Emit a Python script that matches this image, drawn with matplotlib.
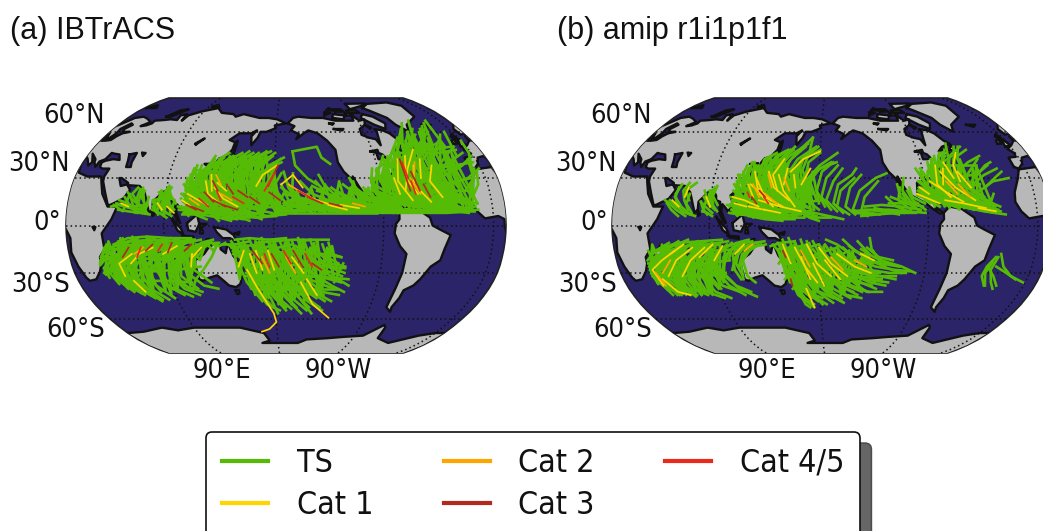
import numpy as np
import matplotlib
matplotlib.use("Agg")
import matplotlib.pyplot as plt
from matplotlib.patches import Polygon

W, H = 1043, 531
OCEAN = "#2c2469"
LAND = "#b8b8b8"
CAT_COLORS = ["#55bb05", "#ffd500", "#ffa500", "#b22a1e", "#e8291c"]
CAT_NAMES = ["TS", "Cat 1", "Cat 2", "Cat 3", "Cat 4/5"]
CENTRAL_LON = 190

# Robinson table
ROB_LAT = np.arange(0, 95, 5)
ROB_PLEN = [1.0, .9986, .9954, .99, .9822, .973, .96, .9427, .9216, .8962, .8679, .835, .7986, .7597, .7186, .6732, .6213, .5722, .5322]
ROB_PDFE = [0, .062, .124, .186, .248, .31, .372, .434, .4958, .5571, .6176, .6769, .7346, .7903, .8435, .8936, .9394, .9761, 1.0]

# coastlines, lon/lat pairs
EURASIA = [-9,37,-9,43,-2,43.5,-1,46,-4.5,48.5,2,51,8,54,8.5,57,10.5,57.5,10,54,14,54,19,54.5,21,57,24,59,30,60,23,60,21,62,25,65,22,66,17,62,18,59,16,56,13,55.5,11,59,6,58,5,62,12,66,18,70,26,71,33,69.5,41,67,35,64,40,64.5,44,66,44,68,54,68.5,60,69,68,68.5,67,72,73,73,74,68,76,72,87,75,104,78,113,74,128,73,132,71,140,73,160,70,170,70,180,69,190,66,178,64.5,179,62.5,170,60,164,60,162,56,157,51,155.5,57,160,61,155,59,143,59,135,54.5,141,53,140,48,135,43.5,130,42.5,127.5,39.5,129,36,126.5,34.5,126,37.5,125,39.5,121.5,39,118,39,122,37,119,35,122,31,120,26,114,22.5,109,21,106,19,109,13,105,9,103,11,100,13.5,99.5,9,103.5,1.5,101,3,98,8,98,15,94.5,16,94,19,91,22.5,87,21,80,15,80,10,77.5,8,73,19,72,21,67,25,57,25.5,56.5,27,50,30,48,30,51,25,56,26,59.5,22.5,55,17,45,13,43,13,39,21,35,28,34.5,31,36,36,30,36,27,37,26.5,40,29,41,35,42,41,41.5,38,45,33,45.5,30,46,28,42,24,40.5,23,37,20,40,19,42,13,45.5,18,40,16,38,12,42,9,44,3,43,-0.5,39,-5.5,36]
AFRICA = [-6,35.5,10,37,11,33.5,20,31,32,31,34,27,37,20,43,12,51,12,47,4,39,-5,40,-15,35,-20,35,-24,32,-29,26,-34,20,-35,18,-33,15,-26,12,-17,13,-8,9,-1,9,4,4,6,-7,4.5,-13,9,-17,15,-16,21,-10,30]
N_AMERICA = [-168,66,-162,70,-156,71,-141,70,-128,70,-115,68,-108,68,-95,68,-94,72,-88,68,-82,69,-85,65,-93,62,-94,58,-88,56,-82,55,-80,51,-79,55,-77,60,-78,62,-70,61,-65,59,-60,54,-56,52,-65,50,-70,47,-65,48,-61,46,-66,44,-70,43,-74,40,-76,35,-81,31,-80,25.5,-82.5,28,-84,30,-90,29,-97,27,-97.5,21,-94,18,-91,19,-87,21,-88,16,-83.5,15,-83.5,11,-79,9,-77,8,-80,7.5,-85,10,-92,14.5,-96,16,-105,20,-109,25,-113,31,-110,23,-115,30,-120,34,-124,40,-124,48,-130,54,-138,59,-147,61,-152,59,-160,55,-157,58.5,-165,61,-161,64]
S_AMERICA = [-77,8,-72,12,-62,10.5,-52,5,-50,0,-44,-2.5,-35,-6,-39,-15,-41,-22,-48,-26,-54,-34,-58,-38,-65,-41,-66,-46,-69,-52,-68,-55,-74,-52,-73,-40,-71,-30,-70,-18,-76,-13,-81,-5,-80,1,-77,4]
AUSTRALIA = [114,-22,122,-18,126,-14,131,-11.5,136,-12,136,-15,140,-17.5,142,-11,146,-19,153,-26,153,-31,150,-37,146,-39,140,-38,136,-35,131,-31.5,124,-33,118,-35,115,-34,114,-26]
GREENLAND = [-73,78,-60,82,-30,83.5,-18,80,-22,71,-40,65,-44,60,-52,65,-55,70,-68,76]
ISLANDS = [
    [145,-41,148,-41,148,-43,146,-43.5],
    [173,-35,178,-38,175,-41.5,174,-39],
    [172,-41,174,-42,170,-46.5,167,-46],
    [131,-1,141,-2.5,147,-6,150,-10.5,144,-8,138,-8,133,-4],
    [109,1.5,117,7,119,1,116,-4,110,-3],
    [95.5,5.5,104,-2,106,-6,101,-3],
    [105,-6.5,114,-7,114,-8.5,106,-7.5],
    [120,1,125,1,121,-1,122,-5,119.5,-5],
    [120.5,18.5,122,18,124,13,126,7,122,7,121,13],
    [130,32,135,34,140,35.5,141.5,40,140,41,139,38,133,35.5],
    [140,42,145,43.5,142,45.5],
    [142,46,143,50,143,54,142,52],
    [120,22,122,25,121,25],
    [80,9.5,82,7,80.5,6],
    [49.5,-12,50,-16,47,-25,44,-25,44,-17],
    [-5,50,1,51,0,53,-2,56,-3,58.5,-6,57,-3,54],
    [-10,52,-6,52,-6,55,-9,54],
    [-24,65,-14,65,-18,63.5],
    [-80,73,-70,71,-62,66,-66,62,-75,65,-85,70],
    [-117,70,-105,69,-102,72,-115,73],
    [-90,77,-70,80,-62,82.5,-90,82],
    [-125,72,-117,74,-124,74.5],
    [-96,74,-82,74,-84,76,-96,76],
    [-110,75,-100,75,-102,77,-112,77],
    [-100,72,-92,72,-94,74,-100,74],
    [-120,76,-112,76,-116,78],
    [-85,65,-80,63,-82,62],
    [-59,48,-53,47,-56,51.5],
    [12,78,25,78,20,80.5],
    [52,71,57,71,68,77,60,76],
    [95,79,105,78,100,81],
    [-85,22,-75,20,-78,22.5],
    [-74,19,-69,18.5,-70,20],
    [125,-9,127,-8.5,124,-10],
    [148,-5,152,-4,151,-6],
]
ANTARCTICA = [10,-70,30,-69,55,-66,70,-68,90,-66,115,-66,140,-66,165,-70,170,-76,160,-78,175,-78,205,-78,215,-75,240,-74,258,-73,280,-72,295,-64,298,-66,300,-74,320,-78,328,-76,345,-72,360,-70,370,-70]
LAKES = [
    [47,45,53,46,53,40,54,37,50,37,49,41],
    [58,46,61,46,60,44],
    [104,51.5,110,55.5,109,55,103,52],
    [32,-1,34,-1,33,-3],
    [-92,47,-85,48,-85,46,-82,45,-80,43,-83,42,-87,42,-87,46],
    [-120,62,-110,62,-112,61],
    [-123,66,-118,66,-120,65],
]

# panel (a) tracks, lon/lat pairs
A_TS_WPAC = [
    [178,8,160,11,140,16,128,24,133,34,150,44],[170,7,150,10,130,14,118,18,108,20],[165,6,148,8,132,10,118,13,106,15],
    [160,5,145,7,128,9,112,11,101,12],[155,4,140,6,125,8,110,9,102,10],[150,4,135,5,120,7,108,8],
    [175,12,158,16,142,24,140,34,158,45],[168,10,150,15,135,24,132,33,142,42],[160,9,145,14,128,21,118,25,118,34],
    [155,8,140,13,124,20,115,28,122,38],[150,7,135,13,120,19,112,24,108,32],[145,6,132,12,116,16,106,22,106,30],
    [140,8,125,14,112,19,108,26],[135,7,122,12,110,16,103,20],[130,8,118,13,108,18],[172,15,160,22,152,32,162,42,176,47],
    [165,14,152,21,146,30,155,40,170,46],[158,13,146,20,138,30,146,40,160,46],[152,12,140,20,130,30,136,40,150,46],
    [148,11,135,18,125,28,130,38,142,44],[142,10,130,18,120,27,124,36,134,43],[138,12,126,20,118,29,122,38],
    [134,14,122,22,114,30,116,38],[128,12,116,20,110,30,112,38],[124,16,112,22,108,28,110,36],[120,15,110,20,104,26],
    [176,18,168,27,165,36,178,44],[170,20,160,28,160,38,172,47],[178,14,170,22,172,34,185,42],[185,10,172,16,165,26,175,38,188,43],
    [190,9,178,14,172,24,180,36],[195,9,182,12,176,20,186,33],[150,16,150,27,158,36,172,44],[145,18,142,28,150,38,165,46],
    [140,20,136,30,144,40,156,47],[130,20,125,30,130,42,138,46],[155,20,152,30,162,40],[165,25,172,35,186,40],
    [115,14,112,22,116,32,126,42],[110,10,108,18,112,28],[135,3,128,8,118,10,106,8],[145,3,135,5,128,9],[160,3,150,6,140,9],
    [170,4,160,7,150,9],[125,4,115,7,105,7],[182,6,165,5,150,6],[190,7,175,6,160,8],[172,9,155,13,140,19,132,27],
    [162,16,148,24,134,34,128,40],[175,22,160,30,150,42],[125,24,120,34,126,44],[158,25,165,38,180,46],[118,9,108,13,103,17],
]
A_FILL_WPAC = [
    [104,12,110,6,116,16,122,6,128,18,134,5,140,20,146,5,152,18,158,6,164,18,170,6,176,16,182,8,190,14],
    [106,18,111,9,119,24,125,8,133,28,139,7,147,28,153,7,161,26,167,8,175,24,181,9,188,20],
    [108,24,113,12,121,32,127,10,135,34,141,10,149,34,155,10,163,32,169,10,177,30,183,10],
    [109,30,115,16,123,38,129,14,137,40,143,14,151,40,157,14,165,38,171,14,179,36,185,12],
    [111,36,117,20,125,42,131,18,139,44,145,18,153,44,159,18,167,44,173,18,181,40],
    [105,15,113,22,118,10,126,30,131,8,139,36,144,8,152,38,156,8,164,40,170,8,178,34,184,8],
    [107,10,114,28,120,8,128,36,133,12,141,42,146,11,154,42,160,11,168,42,174,11,180,28,186,11],
    [112,26,119,36,124,20,132,43,136,18,144,44,150,16,158,44,163,16,172,44,177,20],
    [103,10,120,12,135,11,150,12,170,12,190,11],[105,20,122,18,138,19,155,18,172,19,186,18],
    [108,28,125,27,142,26,160,27,178,26],[114,35,130,34,148,35,165,34,180,34],
]
A_TS_EPAC = [
    [275,9,260,11,245,13,225,15,205,17,188,20],[272,10,255,12,240,14,222,16,205,14],[278,8,262,9,245,10,228,11,210,11,195,12],
    [270,9,252,10,235,10,218,10,200,10,182,9],[265,8,248,8,230,8,212,8,195,8,178,8],[268,12,250,15,232,18,216,22],
    [262,11,245,15,228,19,212,25],[258,10,240,14,224,20,215,28],[255,12,240,17,228,24],[250,10,235,16,222,26,218,32],
    [275,12,262,16,248,20,238,26],[270,13,258,18,248,24],[265,14,252,20,245,28],[262,15,250,22,244,30],[258,16,248,24],
    [280,10,268,15,255,19,246,23],[285,11,272,13,262,18,255,24],[240,9,225,11,210,14,195,19,186,24],[230,9,215,12,200,18,190,28],
    [220,9,205,12,195,20,196,33],[212,8,200,14,192,24,188,34],[205,9,192,16,186,26],[198,8,190,14,182,22],
    [196,47,219,50,222,43,229,39],[196,47,198,38,208,30,216,26],[280,9,265,10,250,12,235,14],[282,8,268,8,252,9],[255,8,240,9,225,9],
    [235,8,220,12,205,16,190,15],[245,12,228,15,212,20,202,28],[260,13,242,18,232,22],
]
A_FILL_EPAC = [
    [190,10,196,18,202,9,208,20,214,9,220,20,226,9,232,22,238,9,244,24,250,9,256,22,262,9,268,20,274,9,280,16,286,10],
    [186,12,193,9,199,22,205,9,211,24,217,9,223,26,229,9,235,28,241,9,247,28,253,9,259,24,265,10,271,18,277,10,283,14],
    [188,14,198,8,204,17,210,8,216,16,222,8,228,18,234,8,240,18,246,8,252,18,258,8,264,16,270,8,276,14,282,8],
    [186,9,200,9,215,10,230,10,245,10,260,10,275,10,288,10],[190,13,205,12,220,13,235,12,250,13,265,13,280,12],
    [192,16,208,15,224,16,240,16,256,16,272,15],
]
A_TS_NATL = [
    [345,9,325,12,300,16,282,24,285,35,310,48,335,60],[342,10,320,14,298,20,288,30,300,42,325,55],[340,8,318,10,295,13,275,16,262,18],
    [338,10,316,12,292,15,272,19,262,24],[335,9,312,11,288,13,270,15],[332,12,310,15,290,22,280,30,295,43,320,58],
    [330,11,305,14,285,22,270,28,268,35,282,42],[328,14,308,18,292,28,295,38,318,50],[325,12,300,18,280,26,272,32,285,40],
    [322,10,298,13,278,18,265,22],[345,14,330,20,315,28,318,40,338,52],[342,13,326,20,308,30,310,42,330,58],
    [340,16,322,24,305,34,312,46,335,62],[336,18,320,28,318,40,340,55],[333,15,315,24,300,34,305,46,322,62],
    [330,20,312,28,295,36,300,48,315,60],[325,22,308,30,290,38,295,50,310,62],[320,18,302,26,285,32,285,44,300,56],
    [315,15,296,22,280,28,278,38,292,50],[310,13,292,20,276,25,268,32,278,44],[305,12,288,18,272,22,262,27,265,36],
    [300,11,282,15,265,20,262,30],[295,13,278,20,270,28,275,36,290,48],[288,14,275,18,262,22,264,30],[280,12,268,18,263,26,270,34],
    [275,18,280,28,292,40,310,54],[278,24,282,32,298,44,318,58],[285,28,295,36,315,46,340,54],[290,30,305,38,325,48,345,50],
    [300,28,315,34,335,40,352,46],[305,24,320,30,340,36,355,42],[310,22,328,26,345,30,358,36],[340,22,350,30,352,40],
    [345,18,352,26,355,34],[320,35,335,44,348,50],[330,35,345,38,358,44],[315,45,325,55,330,62],
    [348,10,330,9,310,9,290,9,275,9],[346,12,325,10,305,10,285,10],[344,9,322,8,300,8,280,8],[338,14,318,17,296,24,282,34],
    [326,17,306,23,290,32,292,46,306,58],[318,13,300,15,284,20,274,28],[312,18,298,28,300,42],[335,24,325,36,335,50,345,58],
    [340,50,345,68],[330,52,340,66],[320,48,335,64],[312,50,326,68],[345,44,352,60],[350,30,358,46,360,54],[300,50,316,66],
]
A_FILL_NATL = [
    [262,20,268,9,274,26,280,9,286,32,292,9,298,38,304,9,310,44,316,9,322,46,328,9,334,40,340,9,346,26],
    [264,28,271,10,277,34,283,10,289,40,295,10,301,46,307,10,313,50,319,10,325,52,331,10,337,46,343,10,350,30],
    [266,18,269,36,276,12,282,44,288,12,294,50,300,12,306,54,312,12,318,58,324,12,330,56,336,12,342,46,348,14],
    [272,22,278,42,284,16,290,48,296,15,302,54,308,15,314,60,320,15,326,60,332,15,338,52,344,18,354,36],
    [268,30,288,26,308,28,328,27,348,30],[270,15,290,14,310,15,330,16,348,14],[278,38,298,36,318,36,338,38,356,40],
    [290,46,310,46,330,46,348,48],[265,12,285,20,305,20,325,22,345,22],
]
A_TS_NIO = [
    [72,8,62,11,52,13,46,12],[74,9,64,12,56,15,52,16],[76,8,68,14,62,20,66,24],[72,10,66,16,68,23],[70,12,62,17,58,21],
    [75,12,70,18,72,22],[78,7,70,8,60,9,52,10],[68,8,60,14,56,18],[92,8,85,13,80,16],[96,6,88,10,82,14],[90,14,88,20,92,25],
    [98,10,92,15,90,21],[88,9,84,15,86,22],[94,12,88,18,84,21],[85,7,82,12,80,15],[99,14,95,18,92,23],[86,12,90,18,94,24],[92,5,86,8,80,10],
    [48,13,56,9,60,20,66,8,70,24,74,8,76,18],[50,14,62,12,76,13],[80,12,84,8,86,22,90,6,91,24,95,8,98,16,92,18,80,16],
]
A_TS_SIO = [
    [115,-9,98,-10,80,-9,62,-10,48,-13,40,-17],[112,-8,95,-8,76,-7,60,-8,48,-12],[110,-10,90,-12,72,-11,55,-13,42,-18,35,-22],
    [105,-11,85,-14,66,-15,50,-18,38,-22,34,-25],[102,-12,84,-16,66,-19,50,-22,40,-28],[100,-9,82,-12,64,-15,48,-22,45,-30,55,-38],
    [95,-8,78,-12,62,-18,50,-26,56,-36,68,-44],[92,-10,76,-15,60,-22,54,-30,62,-40,75,-48],[88,-9,72,-14,58,-20,50,-30,60,-40],
    [85,-11,68,-17,55,-24,48,-32,54,-40],[82,-8,66,-14,52,-18,42,-26,44,-34,54,-42],[80,-12,64,-20,54,-28,56,-38,70,-46],
    [78,-10,62,-16,48,-24,40,-30,44,-37],[75,-9,60,-14,46,-20,36,-27,38,-33],[72,-12,58,-20,46,-28,48,-36,60,-43],
    [70,-10,55,-16,42,-23,35,-30],[68,-8,52,-12,40,-16,36,-20],[65,-12,52,-18,40,-25,38,-31],[62,-10,50,-15,38,-20],
    [110,-14,92,-20,80,-28,85,-38,98,-44],[108,-16,95,-24,92,-32,100,-40,112,-44],[105,-14,88,-20,74,-28,76,-38,88,-46],
    [100,-15,85,-22,72,-32,78,-42],[98,-18,84,-26,82,-36,95,-42],[95,-15,78,-22,66,-30,70,-40,82,-47],[90,-16,74,-24,62,-33,70,-44],
    [85,-18,70,-26,64,-38,76,-47],[118,-12,105,-18,95,-28,100,-38,115,-42],[115,-14,102,-22,100,-32,112,-40],
    [120,-13,108,-20,106,-30,118,-38,130,-40],[122,-12,112,-18,112,-28,125,-36],[125,-10,114,-15,105,-22],[120,-9,108,-11,96,-16],
    [128,-10,118,-12,112,-16],[130,-9,120,-11,114,-18,114,-26],[135,-11,128,-11,122,-14,116,-20],[140,-11,135,-13,130,-12],
    [75,-13,58,-24,50,-36,62,-44],[68,-15,52,-26,44,-32,50,-40],[60,-14,44,-26,36,-31],[90,-13,70,-20,58,-30,64,-42],[105,-19,90,-30,92,-40,105,-45],
]
A_FILL_SIO = [
    [36,-20,42,-12,48,-30,54,-8,60,-36,66,-8,72,-40,78,-8,84,-36,90,-8,96,-36,102,-8,108,-34,114,-9],
    [34,-24,40,-14,46,-34,52,-10,58,-40,64,-7,70,-44,76,-7,82,-42,88,-9,94,-40,100,-9,106,-38,112,-10],
    [38,-26,44,-10,50,-36,56,-8,62,-42,68,-9,74,-32,80,-10,86,-44,92,-11,98,-30,104,-11,110,-30,116,-12],
    [36,-22,55,-20,75,-21,95,-20,115,-18],[38,-29,58,-28,78,-29,98,-28,118,-26],[44,-15,64,-14,84,-14,104,-14,124,-13],
    [48,-35,68,-35,88,-35,108,-36],[112,-12,118,-22,124,-11,130,-16,134,-11,128,-20,120,-28,112,-34,106,-42,100,-36],
]
A_TS_SPAC = [
    [142,-12,150,-16,155,-25,165,-35,180,-45],[145,-10,152,-18,160,-28,172,-40,190,-52],[150,-9,155,-16,160,-26,170,-38,185,-50],
    [155,-10,160,-20,168,-32,182,-45,195,-53],[160,-9,165,-18,172,-30,186,-42,200,-52],[165,-10,170,-20,178,-32,192,-44,210,-54],
    [170,-8,174,-18,182,-30,196,-42,212,-52],[175,-9,180,-20,188,-32,205,-44,222,-52],[180,-9,184,-18,192,-30,208,-40,226,-48],
    [185,-10,190,-20,198,-32,215,-42,232,-48],[190,-9,194,-20,205,-32,222,-42,238,-44],[195,-10,200,-20,212,-30,230,-38,242,-42],
    [200,-8,206,-18,218,-28,235,-34,245,-38],[205,-10,210,-20,222,-28,238,-32],[210,-9,214,-18,225,-26,240,-30],[215,-10,218,-18,228,-24,240,-26],
    [220,-12,224,-20,234,-24],[225,-11,228,-18,236,-20],[148,-14,158,-30,170,-46,178,-52],[152,-13,158,-26,172,-36,188,-44],
    [158,-13,164,-28,178,-38,195,-48],[163,-14,168,-26,180,-36,202,-44],[168,-12,176,-24,190,-34,210,-44],[173,-14,180,-26,196,-36,218,-46],
    [178,-14,186,-26,204,-36,224,-44],[183,-15,192,-26,210,-34,232,-40],[188,-15,200,-26,218,-32,238,-36],[193,-14,206,-24,226,-30],
    [198,-13,212,-22,230,-26],[180,-12,165,-16,152,-20,146,-18],[195,-12,178,-15,162,-20,150,-24],[205,-14,188,-18,170,-24,156,-30],
    [215,-13,198,-20,178,-28,162,-36],[170,-12,155,-13,145,-14],[160,-10,148,-12,138,-12],[190,-8,175,-9,160,-8,148,-9],
    [210,-9,195,-9,180,-10,165,-11],[225,-9,212,-9,200,-10],[155,-22,160,-32,176,-46,182,-56],[165,-28,178,-44,190,-54],
    [175,-30,190,-46,205,-56],[185,-30,200,-44,215,-56],[150,-24,156,-36,168,-48],[160,-36,172,-50,184,-54],[195,-36,210,-48,225,-54],
]
A_FILL_SPAC = [
    [146,-12,150,-34,156,-11,162,-44,168,-10,174,-46,180,-10,186,-48,192,-10,198,-46,204,-9,210,-44,216,-10,222,-40,228,-13,234,-30],
    [148,-18,153,-11,159,-40,165,-11,171,-48,177,-11,183,-50,189,-11,195,-50,201,-10,207,-48,213,-11,219,-44,225,-15,232,-36,238,-24],
    [150,-28,156,-14,162,-36,170,-13,176,-42,182,-14,190,-42,196,-14,204,-40,210,-14,218,-38,224,-14,232,-34],
    [146,-16,170,-17,195,-17,220,-18,236,-20],[150,-24,175,-25,200,-25,225,-26,240,-27],[155,-32,180,-32,205,-32,230,-33,244,-34],
    [162,-40,185,-40,210,-40,235,-40],
]
A_CAT1 = [
    [125,13,115,17,108,20],[135,14,125,20,122,28],[150,12,138,17,130,24],[128,22,126,32],[165,25,170,32,182,38],[112,12,104,16],
    [140,22,132,27],[186,26,196,32,204,24],[232,12,215,16,200,22],[240,10,225,13],[250,11,235,13],[295,16,285,28,290,42],
    [300,20,292,30,298,44],[310,15,298,26,302,38],[285,20,282,30],[305,30,310,42],[320,18,312,28,318,38],[290,22,296,36,308,48],
    [80,-14,68,-18,60,-24],[62,-18,50,-24,52,-32],[100,-13,88,-18],[58,-35,64,-42],[112,-18,110,-26],[120,-14,112,-20],
    [157,-28,165,-40,178,-56,180,-62,172,-67,163,-69],[203,-36,215,-50,233,-59],[165,-16,170,-28],[175,-16,180,-28],[195,-20,205,-30],
    [208,-34,218,-44],[160,-18,165,-30],[155,-16,150,-26],[88,10,84,14],[60,12,54,14],[98,8,92,12],
]
A_CAT2 = [[118,13,110,17],[145,16,136,20],[205,20,192,26],[302,20,296,30],[300,32,304,40],[72,-14,64,-18],[170,-20,176,-30],[190,-20,198,-30],[255,12,245,14],[135,26,130,32]]
A_CAT3 = [
    [130,15,122,21],[140,12,130,16],[150,10,138,13],[122,9,112,12],[133,22,128,28],[146,20,140,26],[158,18,150,22],[175,25,183,38],
    [168,14,160,18],[185,16,176,21],[220,14,208,18],[236,12,226,14],[294,22,292,42],[302,22,298,34],[310,18,306,26],[80,-12,74,-16],
    [60,-14,54,-20],[96,-11,92,-17],[112,-12,106,-16],[162,-16,170,-24],[178,-18,184,-26],[196,-16,204,-26],[212,-24,220,-28],[116,10,108,13],
]
A_CAT45 = [[126,12,118,17],[136,16,132,22],[155,14,146,18],[172,22,180,33],[212,17,200,22],[294,30,293,40],[298,20,296,28],[70,-14,66,-20],[88,-12,84,-16],[172,-18,176,-26],[188,-16,194,-24],[206,-18,212,-26]]

# panel (b) tracks
B_TS_WPAC = [
    [170,8,152,11,135,16,125,22,128,32,142,42],[165,7,148,10,130,14,115,17,106,18],[160,6,142,8,126,10,112,12,104,13],
    [155,5,138,7,122,9,110,11],[150,4,134,6,118,8,108,10],[145,5,128,6,114,7,106,8],[172,11,155,15,140,22,135,33,150,44],
    [168,13,150,18,136,27,138,38,155,48],[162,10,146,15,130,22,122,28,124,38],[158,9,142,14,126,21,116,28,118,36],
    [152,8,136,14,120,20,110,26,112,32],[148,7,132,12,116,17,108,22],[142,9,126,14,112,20,110,28],[136,8,122,12,110,16],
    [132,6,120,10,108,14],[126,6,114,10,106,13],[174,15,162,22,155,32,164,42,178,50],[170,17,156,25,148,36,158,46,172,56],
    [165,12,150,22,142,34,152,44,168,52],[160,14,146,23,134,34,140,44,150,48],[155,12,140,22,128,32,130,42,140,46],
    [150,11,135,20,122,30,122,40],[145,12,130,22,118,32,120,40],[140,14,125,24,114,32,116,38],[135,12,120,22,112,30],
    [130,14,116,24,110,32],[125,12,114,20,108,26],[120,14,110,22],[175,8,160,7,145,6,132,7],[168,5,152,5,138,6],
    [160,4,145,4,130,5],[150,3,136,4,122,6],[175,20,168,30,170,40,180,46],[172,25,165,35,170,46,172,56],[165,20,160,30,165,42,180,48],
    [158,20,152,32,160,42,176,50],[150,18,146,30,154,42,166,50],[144,18,138,30,146,42,156,50],[138,18,132,28,136,40,148,47],
    [132,18,128,30,134,42],[128,16,122,26,126,36,136,44],[122,16,116,26,120,36],[116,12,110,18,112,28],[176,12,170,22,176,34,190,40],
    [178,16,172,28,180,36,195,40],[174,10,158,18,148,28,152,38],[166,9,146,19,132,30,132,40],[156,16,142,28,142,40,152,48],
    [146,9,128,18,116,24,114,34],[178,6,164,9,150,14,136,22],[180,10,170,16,164,26,170,36],[162,16,168,28,180,38,196,46],
    [185,12,178,22,182,34,192,40],[190,10,182,18,186,30,196,38],[195,9,186,16,192,28,200,36],[200,8,192,14,196,26,208,32,212,36],
    [205,7,195,12,198,22,210,30],[210,7,202,12,206,24,216,32],[220,6,208,10,214,22,228,30,238,33],[230,7,215,9,218,18,230,28],
    [180,3,172,5,168,10],[190,5,178,5,168,6],[200,4,188,6,176,8],
]
B_FILL_WPAC = [
    [108,10,113,6,120,24,126,5,132,34,138,5,144,36,150,5,156,32,162,6,168,26,174,8],
    [110,14,116,7,122,30,128,6,134,38,140,6,146,40,152,6,158,36,164,7,170,28,176,10],
    [106,12,112,20,118,8,124,34,130,7,136,42,142,7,148,42,154,8,160,38,166,9,172,30],
    [112,24,118,14,126,38,132,12,138,36,144,11,150,38,156,12,162,40,168,14,174,34,180,14],
    [110,8,130,9,150,9,172,9],[108,16,128,15,148,16,170,15,184,16],[114,22,132,22,152,22,172,22],[116,29,134,28,154,29,172,28],[122,35,140,34,158,36],
]
B_TS_EPAC = [
    [268,8,252,9,238,10,222,10,208,9],[264,10,248,12,232,13,218,12],[260,8,245,8,228,7,215,6],[266,12,252,14,238,14],
    [262,14,250,15,240,18],[260,11,248,18,246,26],[256,10,246,16,248,24],[258,13,250,22,252,30],[254,9,244,12,236,18],
    [264,9,254,14,250,20],[268,10,258,16,254,22],[250,8,238,9,226,11],[246,7,232,9,218,10],[240,8,225,7,210,8],[268,14,258,18,256,24],
]
B_TS_NATL = [
    [322,9,300,13,282,20,276,28,285,38,300,44],[318,10,296,14,278,18,268,21],[326,8,304,11,284,14,270,17,262,19],[328,10,306,14,286,19,272,24,268,30],
    [320,12,300,18,285,26,282,36,294,44],[316,14,296,20,282,26,275,34],[312,12,292,18,276,22,265,24],[308,10,288,15,272,18,263,22],
    [304,13,288,20,278,28,278,38],[300,12,282,18,270,24,264,28],[296,11,278,16,266,20],[292,14,276,20,268,26],[288,12,272,18,264,24],
    [284,16,272,22,266,28],[280,12,270,16,263,20],[324,14,308,22,296,30,300,42,316,48],[318,18,304,26,292,34,298,44,312,50],
    [314,20,300,28,288,36,292,46],[310,16,296,26,286,34,288,44],[306,18,292,28,282,36,284,44],[302,16,288,26,280,32,280,42],
    [298,18,284,26,276,30,276,40],[294,20,282,28,274,34],[290,22,280,30,280,40],[286,24,278,32,276,38],[282,22,274,28,268,36],
    [278,20,270,26,268,34],[274,22,268,30,264,36],[300,26,310,34,322,42],[305,24,315,32,328,38],[310,26,322,32,335,36],
    [315,22,328,28,342,30],[320,24,330,30,338,34],[296,28,300,40,306,50],[292,30,296,42,300,52],[300,34,312,40,325,44],[316,32,326,38,332,40],
    [326,12,312,16,298,22,290,30],[330,9,312,12,296,16,280,22],[334,7,316,9,298,12,282,16],[330,12,312,18,294,26],[306,30,304,42,310,50],
    [286,30,290,40,296,48],[280,26,282,36,290,46],[272,26,274,34,282,42],
]
B_FILL_NATL = [
    [266,20,272,14,278,30,284,12,290,36,296,10,302,38,308,10,314,36,320,10,326,20],
    [270,26,276,12,282,34,288,11,294,40,300,11,306,42,312,12,318,38,324,12],
    [264,22,280,22,298,24,316,26],[268,16,286,16,304,16,322,14],[276,30,294,30,312,32],[284,38,302,38,318,38],
]
B_TS_NIO = [
    [70,6,62,10,56,14,52,16],[74,7,66,12,60,18],[68,8,62,14,60,20,64,26],[72,10,68,16,66,22,70,27],[75,8,70,14,72,20],[64,6,58,10,54,14],[66,12,60,18,62,24],
    [78,6,70,8,62,12,56,16],[72,16,68,22,76,27],[92,8,86,12,82,15],[94,10,88,14,84,18],[90,12,86,18,84,22],[96,9,90,15,88,20],[88,7,84,11,82,15],
    [92,14,90,20,92,24],[96,13,92,18,88,22],[84,9,86,15,90,22],[88,14,92,20,94,25],[92,6,88,8,84,9],
]
B_TS_SIO = [
    [105,-10,88,-12,70,-13,54,-16,42,-20,36,-26],[100,-9,82,-10,64,-11,50,-14,40,-18],[98,-12,80,-15,62,-18,48,-22,36,-28,38,-34],
    [92,-11,76,-15,60,-20,46,-26,36,-32,42,-38],[88,-10,72,-13,56,-18,42,-26,38,-34,48,-41],[84,-12,68,-17,54,-24,44,-32,50,-40,62,-44],
    [80,-10,64,-15,50,-22,40,-30,44,-38,56,-43],[76,-11,60,-17,46,-25,38,-33,46,-41],[72,-9,56,-14,44,-22,36,-30,38,-37],
    [68,-11,54,-18,42,-27,42,-36,54,-44],[64,-10,50,-16,40,-24,36,-30],[60,-12,48,-18,38,-24],[56,-11,44,-16,36,-22],[88,-14,74,-22,62,-32,66,-40,78,-44],
    [94,-14,80,-22,70,-32,76,-42],[100,-14,86,-22,78,-32,86,-42,98,-46],[104,-12,92,-20,84,-30,92,-40],[108,-11,96,-18,92,-28,100,-38,112,-44],
    [112,-12,100,-20,98,-30,108,-40,122,-45],[82,-16,68,-26,58,-36,68,-44],[76,-16,62,-26,54,-36,64,-43],[70,-14,56,-24,48,-34,56,-42],
    [66,-15,52,-26,44,-38,52,-44],[60,-16,48,-28,40,-36,46,-44],[56,-15,44,-26,38,-36],[98,-16,88,-28,94,-38,108,-42],[92,-18,82,-30,90,-40],
    [86,-18,74,-32,78,-42,92,-46],[80,-20,66,-34,72,-44],[74,-18,60,-32,62,-42],[68,-20,54,-32,54,-42],[62,-20,50,-32,58,-42],
    [104,-18,96,-30,106,-38,118,-42],[55,-22,42,-30,44,-40],[50,-18,38,-28,40,-36],[60,-26,46,-36,50,-44],[72,-26,58,-38,66,-45],
    [125,-10,114,-12,106,-16,100,-22],[128,-11,118,-14,110,-20,106,-28],[130,-12,122,-16,114,-24,114,-34],[122,-9,112,-11,102,-14],
    [118,-10,108,-14,104,-22],[116,-12,108,-18,108,-28,112,-34],[126,-13,116,-18,112,-26],[132,-12,124,-14,118,-18],[120,-14,116,-22,118,-32,124,-36],
    [114,-15,110,-24,114,-32],[136,-12,128,-13,122,-16],[135,-10,126,-11,116,-14],
]
B_FILL_SIO = [
    [38,-16,44,-36,50,-12,56,-42,62,-11,68,-42,74,-11,80,-42,86,-12,92,-38,98,-12],
    [36,-28,42,-12,48,-38,54,-12,60,-40,66,-13,72,-44,78,-13,84,-40,90,-13,96,-36,102,-14],
    [40,-20,46,-41,52,-15,58,-44,64,-15,70,-38,76,-15,82,-44,88,-15,94,-34],
    [36,-24,60,-24,85,-24,105,-22],[38,-32,60,-32,85,-32,100,-30],[42,-16,65,-16,90,-16,112,-15],
]
B_TS_SPAC = [
    [142,-12,148,-18,152,-28,160,-38,172,-46],[146,-11,152,-20,156,-30,164,-40,178,-48],[150,-9,155,-18,160,-28,170,-40,182,-50],
    [155,-8,160,-18,166,-30,178,-42,192,-49],[160,-10,165,-20,172,-30,186,-42,200,-48],[165,-9,170,-20,178,-30,192,-40,208,-46],
    [170,-10,175,-20,184,-30,198,-38,214,-44],[175,-10,182,-20,192,-30,208,-38,224,-42],[180,-12,188,-22,200,-30,216,-36,230,-40],
    [185,-12,194,-22,206,-30,224,-36,238,-38],[190,-14,200,-22,214,-28,232,-32,246,-34],[195,-14,206,-24,222,-28,240,-30,254,-30],
    [200,-14,212,-22,228,-26,244,-28,258,-29],[205,-13,218,-20,232,-24,248,-26],[210,-16,222,-22,236,-26],[215,-15,226,-20,238,-24],
    [220,-14,230,-20,242,-22],[225,-16,234,-26,250,-30],[146,-16,152,-32,162,-44,174,-50],[150,-14,156,-28,168,-42,182,-46],[155,-14,162,-28,174,-40,192,-46],
    [160,-16,168,-28,182,-38,200,-46],[165,-14,174,-26,190,-36,210,-42],[170,-16,180,-28,198,-36,218,-42],[175,-15,186,-26,204,-34,226,-38],
    [180,-16,192,-26,212,-32,234,-34],[185,-18,198,-28,218,-34,240,-36],[190,-18,204,-28,226,-32,246,-32],[180,-12,165,-15,152,-18,146,-24],
    [195,-14,178,-18,162,-24,150,-34],[205,-16,188,-22,170,-30,156,-40],[172,-12,158,-14,146,-15],[160,-10,148,-11,140,-13],
    [150,-22,156,-36,168,-48],[160,-32,172,-44,186,-50],[175,-34,188,-44,202,-49],[190,-34,204,-44,218,-46],[206,-34,222,-42,236,-42],
    [222,-8,224,-16,232,-22,250,-26,262,-30],[186,-9,195,-12,210,-20],[200,-9,210,-16,222,-20],[212,-10,222,-18],[160,-40,166,-50,170,-52],
    [154,-32,160,-44,174,-52],
]
B_FILL_SPAC = [
    [148,-12,154,-36,160,-11,166,-42,172,-11,178,-42,184,-13,190,-44,196,-15,202,-42,208,-16,214,-40,220,-18,228,-36],
    [152,-22,157,-12,163,-44,169,-12,175,-46,181,-13,187,-42,193,-15,199,-44,205,-16,211,-36,218,-18,226,-30],
    [150,-30,156,-14,162,-34,170,-13,176,-38,182,-15,190,-38,198,-17,206,-36,216,-20,224,-34],
    [150,-20,175,-20,200,-22,225,-24],[152,-28,178,-28,204,-28,232,-30],[156,-36,180,-36,205,-36],
]
B_TS_SATL = [
    [328,-20,322,-26,320,-32,325,-38],[330,-20,326,-28,330,-36,334,-40],[332,-18,336,-26,345,-32,358,-36],[326,-23,322,-30,326,-38],
    [324,-27,330,-32,336,-38],[330,-26,340,-30,350,-34],
]
B_CAT1 = [
    [165,9,148,12,130,16],[150,12,135,18,122,26],[140,16,128,24,124,34],[155,16,142,24,136,34],[130,12,118,16,108,18],[160,12,150,22,145,32],
    [145,22,140,32,148,42],[132,22,126,30],[120,12,110,14],[165,26,172,36],[155,34,165,42,180,47],[135,10,122,12],[142,12,130,20],[150,26,152,36],
    [160,24,158,32],[125,18,120,26],[148,8,135,10],
    [300,15,285,22,274,28],[310,16,295,24,285,34],[290,18,280,26,282,38],[300,28,298,38,305,46],[280,14,268,18,262,20],[318,11,300,14,285,16],
    [326,9,312,11],[295,30,290,40],[308,24,300,34],[285,26,288,36],[272,20,265,24],
    [60,-16,48,-22,38,-28,42,-38],[75,-14,60,-22,50,-32],[85,-14,72,-22,62,-32],[44,-34,52,-42,62,-44],[68,-12,56,-18],[92,-12,80,-20],[100,-13,92,-22],[118,-12,110,-18],
    [150,-12,156,-24],[160,-14,168,-26,178,-36],[170,-12,178,-24,190,-32],[180,-14,190,-24,204,-32],[195,-18,210,-26,224,-30],[165,-20,172,-34],[185,-22,198,-34],
    [175,-24,184,-38],[215,-18,226,-22],[168,-40,174,-52],[64,12,58,16],[68,18,70,24],[90,12,86,18],
]
B_CAT2 = [[145,14,135,20],[130,18,124,26],[155,22,150,30],[296,20,288,28],[306,18,298,26],[55,-22,46,-30],[40,-30,44,-38],[165,-16,172,-26],[190,-20,200,-28],[210,-22,220,-26],[140,24,136,32],[125,-12,118,-16]]
B_CAT3 = [[135,18,130,22],[128,14,124,18],[150,-16,152,-20],[155,-34,156,-38]]
B_CAT45 = [[138,14,134,18],[122,18,120,21]]

A_TS = A_TS_WPAC + A_FILL_WPAC + A_TS_EPAC + A_FILL_EPAC + A_TS_NATL + A_FILL_NATL + A_TS_NIO + A_TS_SIO + A_FILL_SIO + A_TS_SPAC + A_FILL_SPAC
B_TS = B_TS_WPAC + B_FILL_WPAC + B_TS_EPAC + B_TS_NATL + B_FILL_NATL + B_TS_NIO + B_TS_SIO + B_FILL_SIO + B_TS_SPAC + B_FILL_SPAC + B_TS_SATL
A_TRACKS = [A_TS, A_CAT1, A_CAT2, A_CAT3, A_CAT45]
B_TRACKS = [B_TS, B_CAT1, B_CAT2, B_CAT3, B_CAT45]

LAT_LABELS = ["60°N", "30°N", "0°", "30°S", "60°S"]
LON_LABELS = ["90°E", "90°W"]


def robinson(lon, lat):
    lon = np.asarray(lon, dtype=float)
    lat = np.asarray(lat, dtype=float)
    plen = np.interp(np.abs(lat), ROB_LAT, ROB_PLEN)
    pdfe = np.interp(np.abs(lat), ROB_LAT, ROB_PDFE)
    return 0.8487 * plen * np.deg2rad(lon - CENTRAL_LON), 1.3523 * pdfe * np.sign(lat)


def pairs(flat):
    arr = np.array(flat, dtype=float).reshape(-1, 2)
    return arr[:, 0], arr[:, 1]


def draw_shape(ax, flat, face, clip):
    lon, lat = pairs(flat)
    lon = np.append(lon, lon[0])
    lat = np.append(lat, lat[0])
    for shift in (-360, 0, 360):
        x, y = robinson(lon + shift, lat)
        ax.fill(x, y, color=face, lw=0, zorder=2, clip_path=clip)
        line, = ax.plot(x, y, color="#111111", lw=1.7, zorder=3)
        line.set_clip_path(clip)


def draw_panel(pos, tracks):
    left, right, top, bottom = pos
    ax = fig.add_axes([left / W, 1 - bottom / H, (right - left) / W, (bottom - top) / H])
    ax.set_xlim(-2.666, 2.666)
    ax.set_ylim(-1.3523, 1.3523)
    ax.axis("off")

    edge_lat = np.arange(-90, 91, 5)
    x_r, y_r = robinson(CENTRAL_LON + 180, edge_lat)
    x_l, y_l = robinson(CENTRAL_LON - 180, edge_lat[::-1])
    outline = Polygon(np.column_stack([np.r_[x_r, x_l], np.r_[y_r, y_l]]), closed=True, fc=OCEAN, ec="#222222", lw=1.2, zorder=1, clip_on=False)
    ax.add_patch(outline)

    for shape in [EURASIA, AFRICA, N_AMERICA, S_AMERICA, AUSTRALIA, GREENLAND] + ISLANDS:
        draw_shape(ax, shape, LAND, outline)
    for shape in LAKES:
        draw_shape(ax, shape, OCEAN, outline)

    # antarctica is an open coast, filled down to the pole
    lon, lat = pairs(ANTARCTICA)
    x, y = robinson(lon, lat)
    px, py = robinson([370, 370, 10, 10], [-80, -90, -90, -80])
    ax.fill(np.r_[x, px], np.r_[y, py], color=LAND, lw=0, zorder=2, clip_path=outline)
    line, = ax.plot(x, y, color="#111111", lw=1.7, zorder=3)
    line.set_clip_path(outline)

    # dotted graticule
    for mer in [90, 180, 270, 360]:
        x, y = robinson(np.full(edge_lat.size, mer), edge_lat)
        ax.plot(x, y, color="#111111", lw=1.1, ls=(0, (1, 2)), zorder=4)
    for par in [-60, -30, 0, 30, 60]:
        lons = np.array([CENTRAL_LON - 180, CENTRAL_LON + 180])
        x, y = robinson(lons, np.full(2, par))
        ax.plot(x, y, color="#111111", lw=1.1, ls=(0, (1, 2)), zorder=4)

    for color, name, group in zip(CAT_COLORS, CAT_NAMES, tracks):
        width = 1.9 if name == "TS" else 1.25
        for flat in group:
            lon, lat = pairs(flat)
            x, y = robinson(lon, lat)
            line, = ax.plot(x, y, color=color, lw=width, zorder=5, solid_joinstyle="round")
            line.set_clip_path(outline)
    return ax


fig = plt.figure(figsize=(W / 100, H / 100), dpi=100)
TICK_FONT = dict(family="DejaVu Sans", stretch="condensed", color="#111111")

draw_panel((66, 506, 98, 353), A_TRACKS)
draw_panel((612, 1050, 98, 353), B_TRACKS)

fig.text(10 / W, 1 - 31 / H, "(a) IBTrACS", family="Liberation Sans", fontsize=22, va="center", color="#111111")
fig.text(557 / W, 1 - 31 / H, "(b) amip r1i1p1f1", family="Liberation Sans", fontsize=22, va="center", color="#111111")

lat_y = [116, 164, 223, 285, 330]
for off in (0, 547):
    for label, xr, yy in zip(LAT_LABELS, [105, 70, 61, 70, 105], lat_y):
        fig.text((xr + off) / W, 1 - yy / H, label, ha="right", va="center", fontsize=19.5, **TICK_FONT)
for label, xx in zip(LON_LABELS + LON_LABELS, [222, 338, 767, 883]):
    fig.text(xx / W, 1 - 371 / H, label, ha="center", va="center", fontsize=19.5, **TICK_FONT)

handles = [plt.Line2D([], [], color=c, lw=3, label=n) for c, n in zip(CAT_COLORS, CAT_NAMES)]
leg = fig.legend(handles=handles, ncol=3, loc="upper left", bbox_to_anchor=(206 / W, 1 - 432 / H), borderaxespad=0,
                 prop=dict(family="DejaVu Sans", stretch="condensed", size=23), frameon=True, shadow=dict(ox=8, oy=-8, fc="#666666", alpha=1),
                 fancybox=True, edgecolor="#111111", framealpha=1, handlelength=1.44, handletextpad=0.9, columnspacing=2.2, labelspacing=0.35, borderpad=0.5)
leg.get_frame().set_linewidth(1.2)
for text in leg.get_texts():
    text.set_color("#111111")

fig.savefig("out.png", dpi=100)
